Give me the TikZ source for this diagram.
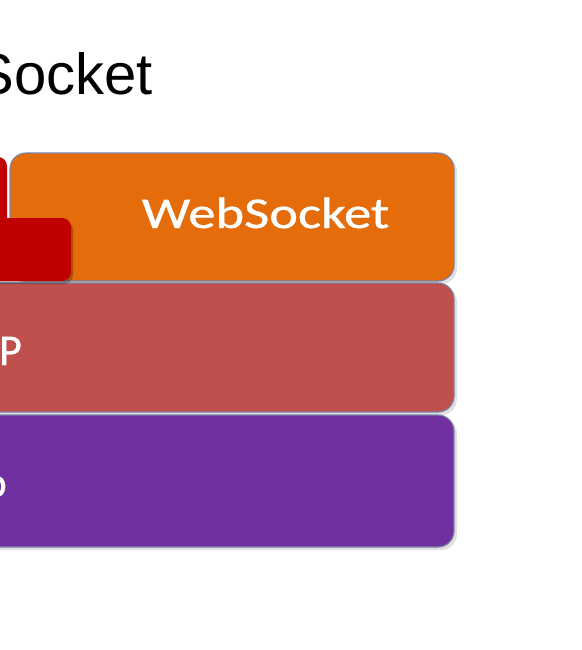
\documentclass[tikz,border=0pt]{standalone}
\usepackage{fontspec}
\usepackage{graphicx}
\setmainfont{Liberation Sans}
\newfontfamily\bodyfont[FakeBold=0.8]{Carlito}
\definecolor{wsorange}{HTML}{E46C0A}
\definecolor{httpred}{HTML}{C0504D}
\definecolor{tcppurple}{HTML}{7030A0}
\definecolor{tabred}{HTML}{C00000}
\definecolor{edgeblue}{HTML}{7A82A6}
\tikzset{
  layer/.style={rounded corners=16pt, draw=edgeblue, line width=1.1pt},
  tab/.style={rounded corners=9pt, fill=tabred},
  label/.style={text=white, inner sep=0pt, font=\bodyfont\fontsize{44}{44}\selectfont},
  title/.style={text=black, inner sep=0pt, font=\fontsize{58}{58}\selectfont}
}
\begin{document}
\begin{tikzpicture}[x=1pt, y=-1pt]
  \useasboundingbox (0,0) rectangle (581,650);
  \fill[white] (0,0) rectangle (581,650);
  \begin{scope}
    \clip (0,0) rectangle (581,650);
    % page heading
    \node[title, anchor=base east] (head) at (153,95) {Socket};
    % soft shadows under the layers
    \fill[black, opacity=0.12, rounded corners=16pt] (12,156) rectangle (457,284);
    \fill[black, opacity=0.12, rounded corners=16pt] (-58,286) rectangle (457,415);
    \fill[black, opacity=0.12, rounded corners=16pt] (-58,418) rectangle (457,550);
    % protocol stack
    \draw[layer, fill=wsorange] (10,153) rectangle (454,281);
    \draw[layer, fill=httpred] (-60,283) rectangle (454,412);
    \draw[layer, fill=tcppurple] (-60,415) rectangle (454,547);
    % red block on the left, with its tab over the top layer
    \fill[tab] (-60,157) rectangle (7,281);
    \fill[black, opacity=0.25, rounded corners=9pt] (-60,221) rectangle (73,284);
    \fill[tab] (-60,218) rectangle (71,281);
    % layer labels
    \node[label, anchor=base] (ws) at (265.5,228) {\scalebox{1.24}[1]{WebSocket}};
    \node[label, anchor=base east] (http) at (22,365) {P};
    \node[label, anchor=base east] (tcp) at (7,497) {o};
  \end{scope}
\end{tikzpicture}
\end{document}
